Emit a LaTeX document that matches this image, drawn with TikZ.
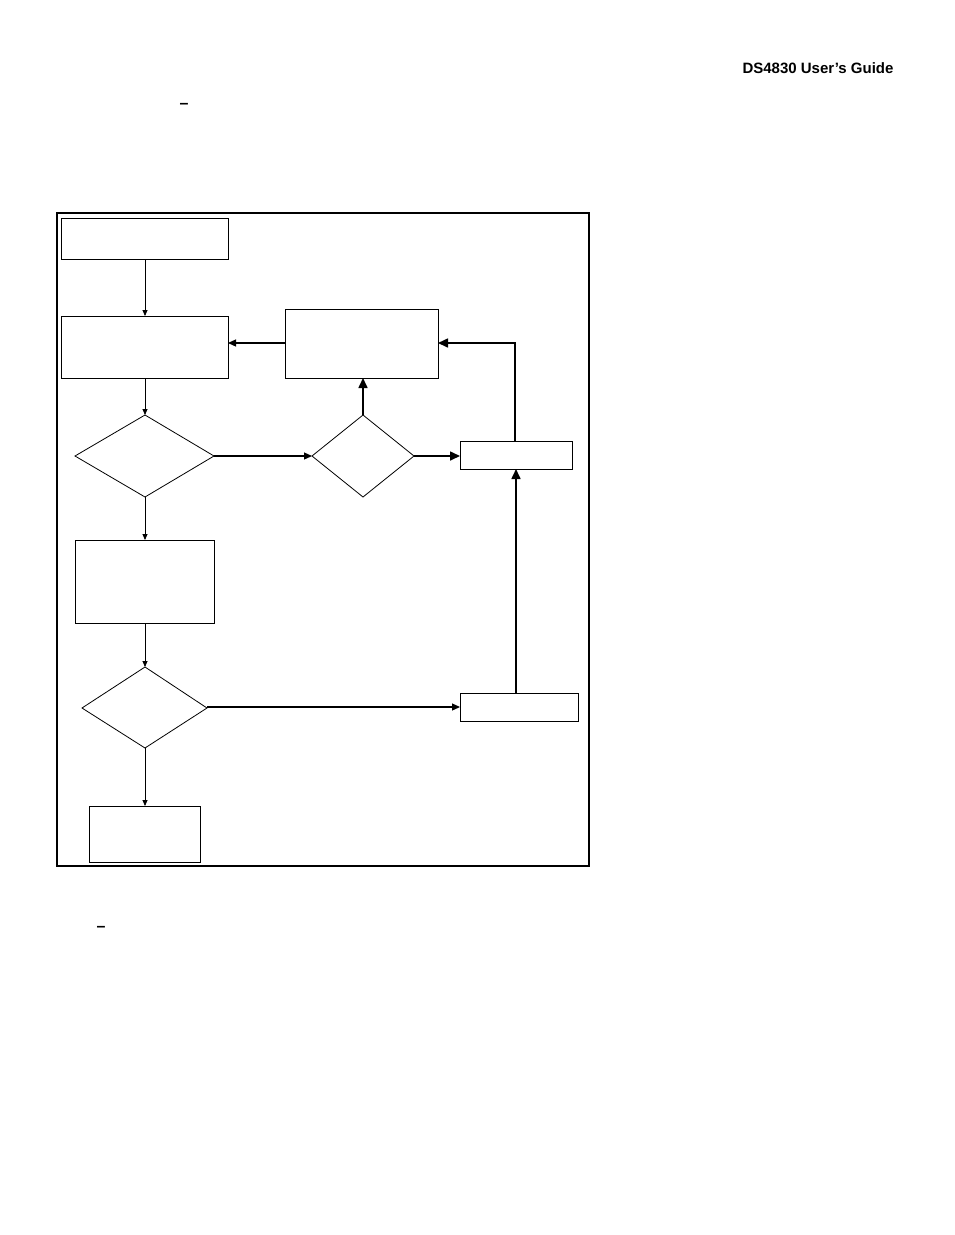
\documentclass[tikz,border=0pt]{standalone}
\usepackage{fontspec}
\setmainfont{Liberation Sans}
\usetikzlibrary{arrows.meta}
\begin{document}
\begin{tikzpicture}[x=1pt,y=-1pt,
  bx/.style={draw,line width=0.8pt},
  thin/.style={line width=0.8pt,-{Triangle[length=6pt,width=5pt]}},
  thick/.style={line width=1.6pt,-{Triangle[length=10pt,width=9pt]}}]
\useasboundingbox (0,0) rectangle (954,1235);
\node[anchor=base east,font=\bfseries\fontsize{15}{17}\selectfont] (hdr) at (897,73) {DS4830 User’s Guide};
\node[font=\bfseries\fontsize{16}{18}\selectfont] (d1) at (184,106) {–};
\node[font=\bfseries\fontsize{16}{18}\selectfont] (d2) at (101,929) {–};
\draw[line width=1.5pt] (57,213) rectangle (589,866);
\draw[bx] (61,218) rectangle (228,259);
\draw[bx] (61,316) rectangle (228,378);
\draw[bx] (285,309) rectangle (438,378);
\draw[bx] (460,441) rectangle (572,469);
\draw[bx] (75,540) rectangle (214,623);
\draw[bx] (460,693) rectangle (578,721);
\draw[bx] (89,806) rectangle (200,862);
\draw[bx] (75,456) -- (145,415) -- (214,456) -- (145,497) -- cycle;
\draw[bx] (312,456) -- (363,415) -- (414,456) -- (363,497) -- cycle;
\draw[bx] (82,708) -- (145,667) -- (207,708) -- (145,748) -- cycle;
\draw[thin] (145,259) -- (145,316);
\draw[thin] (145,378) -- (145,415);
\draw[thin] (145,497) -- (145,540);
\draw[thin] (145,623) -- (145,667);
\draw[thin] (145,748) -- (145,806);
\draw[line width=1.2pt,-{Triangle[length=8pt,width=7pt]}] (214,456) -- (312,456);
\draw[thick] (414,456) -- (460,456);
\draw[thick] (363,415) -- (363,378);
\draw[line width=1.2pt,-{Triangle[length=8pt,width=7pt]}] (285,343) -- (228,343);
\draw[thick] (515,441) -- (515,343) -- (438,343);
\draw[line width=1.2pt,-{Triangle[length=8pt,width=7pt]}] (207,707) -- (460,707);
\draw[thick] (516,693) -- (516,469);
\end{tikzpicture}
\end{document}
